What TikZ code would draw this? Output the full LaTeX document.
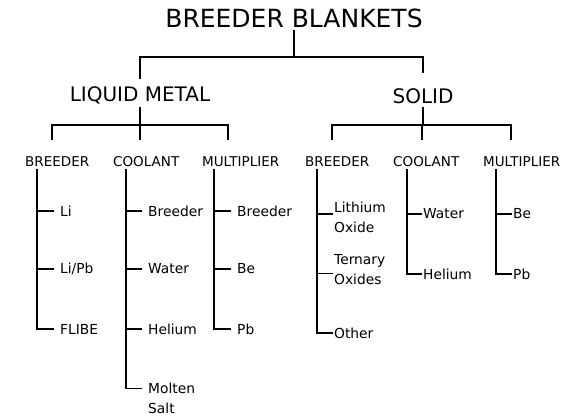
\documentclass[tikz,border=0pt]{standalone}
\usepackage{fontspec}
\setmainfont{DejaVu Sans}
\usetikzlibrary{positioning}

\begin{document}
\begin{tikzpicture}[x=1pt, y=-1pt,
          title/.style={
              font=\fontsize{25}{30}\selectfont,
              inner sep=2pt
            },
          branch/.style={
              font=\fontsize{20}{24}\selectfont,
              inner sep=3pt
            },
          head/.style={
              font=\fontsize{13.5}{16}\selectfont,
              anchor=west,
              inner sep=2pt
            },
          leaf/.style={
              font=\fontsize{13.8}{20}\selectfont,
              anchor=west,
              align=left,
              inner sep=1pt
            },
          ln/.style={line width=1.1pt, black},
          drop/.style={ln, shorten >=15pt},
          twig/.style={ln, shorten >=5pt}
        ]
        \useasboundingbox (0,0) rectangle (575,417);

        \node[title] (blankets) at (294,18) {BREEDER BLANKETS};
        \node[branch] (liquid) at (140,95) {LIQUID METAL};
        \node[branch] (solid) at (423,96) {SOLID};
        \coordinate (top_join) at (294,57);
        \draw[ln] (blankets.south) -- (top_join);
        \draw[ln, shorten >=4pt] (top_join) -| (liquid.north);
        \draw[ln, shorten >=12pt] (top_join) -| (solid.north);

        % liquid metal side
        \node[head] (l_breeder) at (23,162) {BREEDER};
        \node[head] (l_coolant) at (111,162) {COOLANT};
        \node[head] (l_mult) at (200,162) {MULTIPLIER};
        \coordinate (l_join) at (140,125);
        \draw[ln] (liquid.south) -- (l_join);
        \draw[drop] (l_join) -| ([xshift=29pt]l_breeder.north west);
        \draw[drop] (l_join) -| ([xshift=29pt]l_coolant.north west);
        \draw[drop] (l_join) -| ([xshift=28pt]l_mult.north west);

        \node[leaf] (li) at (59,211) {Li};
        \node[leaf] (lipb) at (59,269) {Li/Pb};
        \node[leaf] (flibe) at (59,329) {FLIBE};
        \draw[twig] ([xshift=14pt]l_breeder.south west) |- (li.west);
        \draw[twig] ([xshift=14pt]l_breeder.south west) |- (lipb.west);
        \draw[twig] ([xshift=14pt]l_breeder.south west) |- (flibe.west);

        \node[leaf] (c_breeder) at (147,211) {Breeder};
        \node[leaf] (c_water) at (147,269) {Water};
        \node[leaf] (c_helium) at (147,329) {Helium};
        \node[leaf] (c_salt) at (147,398.5) {Molten\\Salt};
        \draw[twig] ([xshift=15pt]l_coolant.south west) |- (c_breeder.west);
        \draw[twig] ([xshift=15pt]l_coolant.south west) |- (c_water.west);
        \draw[twig] ([xshift=15pt]l_coolant.south west) |- (c_helium.west);
        \draw[twig] ([xshift=15pt]l_coolant.south west) |- ([yshift=10pt]c_salt.west);

        \node[leaf] (m_breeder) at (236,211) {Breeder};
        \node[leaf] (m_be) at (236,269) {Be};
        \node[leaf] (m_pb) at (236,329) {Pb};
        \draw[twig] ([xshift=14pt]l_mult.south west) |- (m_breeder.west);
        \draw[twig] ([xshift=14pt]l_mult.south west) |- (m_be.west);
        \draw[twig] ([xshift=14pt]l_mult.south west) |- (m_pb.west);

        % solid side
        \node[head] (s_breeder) at (303,162) {BREEDER};
        \node[head] (s_coolant) at (391,162) {COOLANT};
        \node[head] (s_mult) at (481,162) {MULTIPLIER};
        \coordinate (s_join) at (423,125);
        \draw[ln] (solid.south) -- (s_join);
        \draw[drop] (s_join) -| ([xshift=29pt]s_breeder.north west);
        \draw[drop] (s_join) -| ([xshift=31pt]s_coolant.north west);
        \draw[drop] (s_join) -| ([xshift=30pt]s_mult.north west);

        \node[leaf] (oxide) at (333,217) {Lithium\\Oxide};
        \node[leaf] (ternary) at (333,269.5) {Ternary\\Oxides};
        \node[leaf] (other) at (333,333) {Other};
        \draw[ln] ([xshift=14pt]s_breeder.south west) |- ([yshift=3pt]oxide.west);
        \draw[ln] ([xshift=14pt]s_breeder.south west) |- ([yshift=-4pt]ternary.west);
        \draw[ln] ([xshift=14pt]s_breeder.south west) |- (other.west);

        \node[leaf] (s_water) at (422,214) {Water};
        \node[leaf] (s_helium) at (422,274) {Helium};
        \draw[ln] ([xshift=16pt]s_coolant.south west) |- (s_water.west);
        \draw[ln] ([xshift=16pt]s_coolant.south west) |- (s_helium.west);

        \node[leaf] (s_be) at (512,214) {Be};
        \node[leaf] (s_pb) at (512,274) {Pb};
        \draw[ln] ([xshift=15pt]s_mult.south west) |- (s_be.west);
        \draw[ln] ([xshift=15pt]s_mult.south west) |- (s_pb.west);
      \end{tikzpicture}
\end{document}
